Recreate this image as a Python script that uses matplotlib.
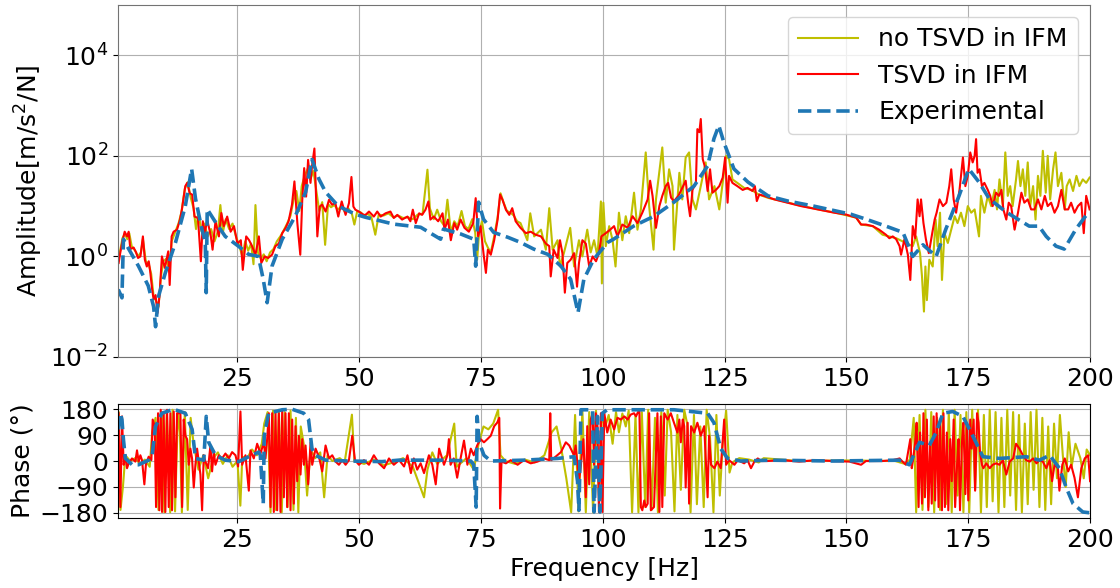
import numpy as np
import matplotlib
matplotlib.use('Agg')
import matplotlib.pyplot as plt
from matplotlib.ticker import NullLocator

plt.rcParams['font.size'] = 18

# amplitude, experimental (f [Hz], |H|)
exp_amp = [(0.55, 0.22), (1.3, 0.15), (1.6, 2.2), (2.7, 1.4), (4.7, 0.64), (6.7, 0.26), (7.8, 0.10),
           (8.2, 0.04), (8.8, 0.16), (10.2, 0.47), (12.3, 1.9), (14.3, 10), (15.6, 55), (16.4, 14),
           (17.7, 3.5), (18.4, 1.9), (18.6, 0.19), (18.8, 8.7), (20.5, 4.8), (22.5, 2.5), (25.2, 1.6),
           (27.3, 1.1), (29.3, 1.0), (30.3, 0.35), (31.1, 0.12), (32.1, 0.64), (34.2, 2.2), (36.9, 6.4),
           (39.0, 19), (40.3, 85), (41.7, 35), (43.1, 19), (45.7, 10), (49.2, 6.9), (51.3, 6.0),
           (52.9, 5.5), (57.0, 4.4), (62.6, 3.8), (66.7, 2.2), (67.3, 3.5), (70.8, 2.8), (73.5, 2.2),
           (73.9, 0.64), (74.5, 12), (75.5, 5.5), (77.6, 3.0), (80.5, 2.4), (83.1, 1.9), (85.8, 1.4),
           (88.7, 1.1), (91.4, 0.64), (93.4, 0.35), (94.9, 0.076), (96.1, 0.35), (98.1, 0.87),
           (101.0, 1.9), (102.2, 2.2), (106.3, 4.0), (110.5, 6.3), (114.6, 12), (118.7, 25), (121.5, 63),
           (122.8, 220), (123.8, 400), (124.8, 190), (126.9, 55), (129.8, 30), (133.9, 16), (138.0, 12.6),
           (143.3, 10), (150.9, 6.9), (154.0, 5.5), (158.1, 4.0), (161.6, 3.0), (163.6, 1.0), (165.7, 1.7),
           (168.4, 1.0), (170.4, 3.5), (173.1, 16), (175.1, 55), (177.2, 30), (179.3, 14), (182.8, 7.6),
           (187.5, 4.0), (189.5, 4.0), (191.0, 2.5), (193.0, 1.6), (194.7, 1.4), (197.1, 3.5), (199.8, 7.9)]

# amplitude, TSVD in IFM
tsvd_amp = [(0.62, 0.74), (0.97, 1.2), (1.44, 2.1), (1.86, 3.1), (2.34, 2.5), (2.68, 3.1), (3.02, 1.4),
            (3.7, 1.5), (4.2, 1.2), (4.6, 0.93), (5.1, 1.0), (5.6, 2.5), (6.0, 0.86), (6.4, 0.63),
            (6.8, 0.80), (7.1, 0.50), (7.5, 0.22), (7.8, 0.14), (8.2, 0.17), (8.6, 0.075), (9.0, 0.16),
            (9.5, 1.0), (10.1, 0.59), (10.8, 1.26), (11.1, 0.27), (11.5, 2.5), (11.9, 3.1), (12.6, 3.4),
            (13.2, 5.3), (13.6, 8.5), (14.3, 25), (14.7, 29), (15.2, 18), (15.7, 17), (16.2, 6.2),
            (16.9, 5.8), (17.5, 0.80), (17.9, 5.0), (18.3, 2.9), (18.8, 5.3), (19.5, 2.7), (19.9, 1.36),
            (20.5, 5.0), (21.2, 2.5), (21.7, 7.3), (22.2, 4.0), (22.9, 6.2), (23.6, 3.1), (24.3, 4.0),
            (25.0, 1.8), (25.7, 2.1), (26.1, 0.54), (26.8, 2.5), (27.4, 2.1), (28.0, 1.6), (28.7, 1.08),
            (29.4, 2.5), (29.9, 0.74), (30.6, 1.0), (31.3, 0.93), (32.1, 1.08), (32.8, 1.6), (33.5, 1.8),
            (34.2, 2.9), (34.9, 3.7), (35.5, 5.0), (36.2, 10.7), (36.7, 31), (37.3, 4.6), (37.9, 1.08),
            (38.3, 13), (38.7, 57), (39.1, 15.5), (39.5, 83), (40.0, 29), (40.3, 61), (40.8, 140),
            (41.0, 39), (41.4, 2.5), (41.9, 9.8), (42.4, 10.7), (43.1, 7.8), (43.8, 13.4), (44.4, 10.7),
            (45.1, 11.5), (45.7, 6.2), (46.4, 12.4), (47.2, 6.7), (47.9, 11.5), (48.4, 38), (48.8, 9.8),
            (49.2, 8.5), (49.9, 7.8), (50.9, 6.7), (51.3, 6.7), (52.0, 7.8), (53.0, 6.2), (53.7, 7.8),
            (54.4, 6.2), (55.4, 7.2), (56.4, 7.8), (57.1, 5.8), (57.8, 6.7), (58.8, 5.4), (59.9, 6.2),
            (60.5, 5.0), (61.0, 8.5), (61.6, 4.6), (62.3, 7.2), (62.9, 6.7), (63.6, 8.5), (64.2, 12.4),
            (64.6, 5.4), (65.3, 6.2), (66.2, 5.0), (67.1, 7.2), (67.5, 3.4), (68.2, 5.4), (68.8, 2.1),
            (69.5, 4.6), (70.1, 3.4), (70.8, 5.4), (71.6, 3.7), (72.5, 3.1), (73.4, 4.6), (73.9, 14.4),
            (74.4, 2.5), (74.9, 4.0), (75.5, 1.16), (76.0, 0.47), (76.4, 1.36), (77.0, 1.08), (77.7, 2.1),
            (78.4, 5.4), (78.9, 17), (79.4, 13.4), (80.1, 8.5), (80.8, 6.7), (81.4, 9.1), (82.1, 5.0),
            (83.1, 3.7), (84.2, 2.9), (85.2, 3.1), (86.2, 2.7), (87.3, 2.5), (88.3, 1.8), (89.0, 1.6),
            (89.3, 0.40), (89.9, 1.36), (90.7, 0.93), (91.2, 2.1), (91.7, 1.16), (92.2, 0.19), (92.7, 0.74),
            (93.4, 0.86), (94.1, 1.16), (94.7, 0.25), (95.1, 0.74), (95.8, 2.1), (96.5, 1.8), (97.2, 0.63),
            (97.9, 1.0), (98.6, 0.80), (99.2, 1.16), (99.7, 2.5), (100.6, 2.9), (101.5, 3.4), (102.3, 4.0),
            (103.0, 2.5), (104.0, 4.3), (105.1, 3.7), (106.1, 6.3), (107.1, 4.6), (108.1, 7.4), (109.2, 13.6),
            (109.7, 32), (110.2, 16), (110.9, 3.7), (111.6, 10), (112.2, 16), (112.9, 25), (113.4, 29),
            (114.0, 14.7), (114.6, 12.6), (115.5, 16), (116.3, 23), (117.0, 32), (117.5, 11.7), (117.9, 6.3),
            (118.4, 21), (119.1, 29), (119.4, 340), (119.8, 295), (120.1, 540), (120.5, 86), (120.9, 63),
            (121.5, 20), (122.0, 54), (122.5, 18.5), (123.2, 21), (123.9, 25), (124.6, 37), (125.1, 93),
            (125.6, 11.7), (125.9, 40), (126.6, 29), (127.6, 25), (128.7, 21), (129.7, 23), (130.7, 20),
            (131.2, 25), (131.6, 12.6), (132.1, 17), (133.1, 16), (135.2, 13.6), (137.9, 11.7), (140.7, 10),
            (144.1, 8.6), (147.5, 7.4), (149.9, 6.8), (152.0, 5.9), (153.0, 4.3), (154.0, 4.3), (155.4, 4.0),
            (156.7, 3.4), (158.1, 2.7), (158.8, 2.3), (159.5, 2.5), (160.2, 2.2), (160.9, 1.6), (161.2, 1.08),
            (161.9, 2.2), (162.6, 1.08), (163.1, 0.34), (163.6, 4.0), (164.1, 2.3), (164.6, 13.6), (165.0, 6.3),
            (165.3, 13.6), (165.8, 4.6), (166.3, 2.2), (166.9, 1.16), (167.6, 2.9), (168.1, 5.4), (168.5, 7.4),
            (169.1, 13.6), (169.8, 10), (170.5, 11.7), (171.1, 25), (171.5, 54), (172.0, 13.6), (172.5, 7.4),
            (173.2, 21), (173.9, 93), (174.4, 25), (174.9, 40), (175.4, 117), (175.9, 74), (176.3, 100),
            (176.6, 215), (176.9, 46), (177.3, 54), (177.8, 25), (178.3, 29), (179.0, 21), (179.5, 16),
            (180.0, 10), (180.7, 18.5), (181.3, 16), (181.8, 21), (182.2, 8.6), (182.8, 5.4), (183.3, 11.7),
            (183.8, 10), (184.5, 3.4), (185.2, 7.4), (185.9, 18.5), (186.5, 11.7), (187.2, 13.6), (187.9, 8.6),
            (188.6, 8.6), (189.3, 13.6), (190.0, 8.6), (190.7, 16), (191.3, 10), (192.0, 11.7), (192.7, 7.4),
            (193.4, 10), (194.1, 21), (194.8, 8.6), (195.5, 8.6), (196.1, 11.7), (196.8, 7.4), (197.5, 10),
            (198.2, 11.7), (198.7, 2.9), (199.2, 16), (199.9, 8.6)]

# amplitude, no TSVD in IFM
notsvd_amp = [(0.6, 0.9), (1.0, 1.4), (1.4, 2.3), (1.9, 2.8), (2.4, 2.2), (2.8, 2.9), (3.3, 1.6), (4.0, 1.3),
              (4.6, 1.0), (5.2, 1.2), (5.6, 2.2), (6.2, 0.8), (6.8, 0.7), (7.3, 0.45), (7.8, 0.16), (8.3, 0.13),
              (8.8, 0.1), (9.3, 0.4), (9.8, 0.8), (10.4, 0.9), (11.0, 0.5), (11.5, 2.0), (12.2, 3.0), (12.9, 4.5),
              (13.5, 7.5), (14.2, 22), (14.8, 30), (15.4, 15), (16.0, 9), (16.5, 3.5), (17.0, 7.5), (17.6, 3.2),
              (18.2, 4.5), (18.9, 2.5), (19.6, 3.5), (20.3, 2.0), (21.0, 3.2), (21.5, 10.5), (22.0, 3.0),
              (22.6, 5.5), (23.3, 3.5), (24.0, 4.5), (24.7, 2.5), (25.4, 1.6), (26.0, 1.0), (26.6, 2.0),
              (27.2, 1.3), (27.8, 1.8), (28.3, 0.7), (28.7, 10.5), (29.2, 1.2), (29.8, 0.9), (30.4, 1.1),
              (31.0, 0.8), (31.7, 1.2), (32.4, 1.4), (33.1, 2.0), (33.8, 2.5), (34.5, 3.3), (35.2, 4.5),
              (35.9, 6.5), (36.5, 13), (37.1, 20), (37.7, 8), (38.2, 25), (38.8, 40), (39.4, 55), (40.0, 35),
              (40.6, 50), (41.2, 20), (41.8, 8), (42.4, 12), (43.0, 1.7), (43.6, 11), (44.2, 9.5), (44.9, 10.5),
              (45.6, 8.5), (46.4, 10), (47.1, 7.5), (47.8, 9), (48.5, 7), (49.0, 4.3), (49.6, 8), (50.3, 7.5),
              (51.0, 6.5), (51.8, 7.0), (52.5, 6.0), (53.3, 2.7), (54.0, 6.8), (55.0, 6.5), (56.0, 7.2),
              (57.0, 6.0), (58.0, 6.5), (59.0, 5.8), (60.0, 6.0), (61.0, 5.5), (62.0, 6.8), (63.0, 7.0),
              (64.0, 53), (64.5, 9), (65.3, 5.5), (66.0, 8.5), (66.8, 5.0), (67.5, 4.0), (68.1, 13.4),
              (68.8, 3.0), (69.5, 5.0), (70.2, 4.0), (71.0, 8.0), (71.7, 4.0), (72.4, 3.5), (73.2, 5.5),
              (73.8, 3.0), (74.2, 0.86), (74.6, 3.0), (75.2, 5.0), (75.8, 2.0), (76.4, 1.5), (77.0, 1.2),
              (77.7, 2.5), (78.4, 6), (79.0, 18), (79.6, 12), (80.3, 8), (81.0, 7.5), (81.7, 6.5), (82.4, 5.0),
              (83.1, 4.6), (84.5, 2.1), (85.1, 7.2), (85.9, 2.5), (87.3, 3.4), (88.3, 1.36), (89.0, 9.1),
              (89.7, 1.36), (90.7, 2.1), (91.2, 0.63), (92.0, 1.16), (93.3, 3.7), (94.1, 0.63), (95.1, 2.1),
              (95.8, 1.0), (96.8, 3.4), (97.5, 1.2), (98.2, 2.1), (98.9, 1.0), (99.6, 12.4), (99.8, 0.29),
              (100.1, 11.7), (100.6, 1.6), (101.3, 4.0), (102.0, 2.1), (102.6, 0.63), (103.3, 7.4), (104.0, 2.1),
              (104.7, 6.3), (105.4, 2.9), (106.4, 18.5), (107.1, 3.4), (107.8, 8.6), (108.8, 117), (109.5, 10),
              (110.4, 1.36), (110.9, 13.6), (112.2, 147), (112.9, 11.7), (113.6, 54), (114.3, 25), (114.6, 1.36),
              (115.7, 46), (116.3, 13.6), (117.0, 93), (117.7, 117), (118.4, 13.6), (119.1, 8.6), (120.1, 25),
              (121.1, 74), (121.8, 13.6), (122.9, 25), (123.9, 8.6), (124.6, 29), (125.3, 100), (125.9, 86),
              (126.6, 34), (127.6, 29), (129.0, 23), (130.5, 21), (132.0, 17), (134.0, 14.5), (137.0, 12.5),
              (140.0, 10.5), (144.0, 8.7), (148.0, 7.3), (152.0, 5.9), (153.0, 4.3), (155.4, 4.0), (157.4, 2.7),
              (160.2, 2.3), (162.2, 1.85), (163.6, 1.6), (164.3, 2.5), (165.1, 1.16), (165.5, 0.40), (165.9, 0.08),
              (166.2, 0.63), (166.5, 0.135), (167.0, 0.86), (167.7, 0.63), (168.3, 5.4), (168.7, 1.6), (169.2, 7.4),
              (169.6, 0.34), (170.1, 2.9), (170.8, 1.85), (171.5, 3.4), (172.2, 6.3), (172.8, 4.6), (173.5, 7.4),
              (174.2, 4.0), (174.9, 10), (175.6, 7.4), (176.3, 8.6), (177.2, 2.5), (177.6, 16), (178.3, 7.4),
              (179.0, 16), (179.7, 10), (180.4, 21), (180.9, 8.6), (181.4, 34), (182.1, 10), (182.6, 117),
              (183.1, 16), (183.6, 25), (184.1, 10), (184.8, 34), (185.2, 79), (185.7, 25), (186.2, 54),
              (186.7, 16), (187.2, 74), (187.7, 10), (188.3, 25), (188.8, 5.4), (189.3, 40), (189.8, 16),
              (190.3, 126), (190.9, 18.5), (191.3, 100), (191.8, 13.6), (192.4, 54), (192.9, 117), (193.4, 25),
              (194.1, 46), (194.8, 8.6), (195.2, 25), (195.8, 34), (196.5, 20), (197.2, 40), (197.8, 25),
              (198.5, 34), (199.2, 29), (199.9, 37)]

# phase [deg], experimental
exp_ph = [(0.55, 110), (0.97, 166), (1.3, 144), (1.6, 76), (2.0, 9), (3.4, -13), (4.7, -13), (6.8, 3),
          (7.5, 20), (8.2, 121), (9.5, 166), (11.9, 180), (14.3, 166), (15.7, 110), (16.4, 9), (18.1, 3),
          (18.6, 155), (19.1, 65), (20.5, 20), (22.5, 3), (25.3, -2), (27.3, 15), (29.4, 31), (29.7, 20),
          (30.3, -148), (30.5, 88), (31.4, 166), (34.2, 178), (36.2, 180), (38.6, 166), (39.6, 144),
          (40.3, 43), (41.0, 20), (43.1, 3), (47.8, 0), (54.7, -2), (58.1, 3), (67.7, 3), (72.9, 0),
          (73.5, -13), (74.0, -160), (74.2, 155), (74.6, 65), (75.6, 20), (77.0, 0), (83.8, 3), (90.7, 9),
          (94.1, 15), (94.8, -70), (95.1, -171), (95.5, 178), (97.9, 178), (98.2, -177), (98.9, 155),
          (99.4, -177), (99.9, 166), (100.9, 178), (107.8, 178), (114.6, 178), (121.5, 166), (122.8, 133),
          (124.2, 43), (125.6, 9), (128.3, 0), (134.5, 3), (147.2, 0), (160.8, 3), (162.9, -13), (165.0, 65),
          (167.0, 54), (168.4, 99), (169.8, 166), (171.8, 172), (173.9, 155), (175.9, 88), (178.0, 15),
          (181.4, 9), (186.9, 15), (189.6, 3), (191.7, 20), (193.7, -25), (195.1, -92), (196.5, -148),
          (198.5, -177), (200.0, -180)]

# phase [deg], TSVD in IFM
tsvd_ph = [(0.62, 166), (0.97, -160), (1.31, 155), (1.65, -13), (2.0, 20), (2.34, -25), (2.68, -8), (3.36, 9),
           (4.05, -2), (4.39, 37), (4.73, -2), (5.08, 20), (5.42, 3), (5.9, -81), (6.24, -8), (6.79, 15),
           (7.34, 3), (7.61, 144), (8.02, 121), (8.30, -160), (8.71, 166), (8.98, -171), (9.26, 178),
           (9.53, -177), (9.87, 166), (10.21, -177), (10.56, 178), (10.90, -160), (11.24, 166), (11.58, -171),
           (11.93, 172), (12.27, -126), (12.61, 166), (13.30, 166), (13.64, -160), (13.98, 144), (14.32, 88),
           (14.67, 76), (15.01, -13), (15.35, 43), (15.69, 9), (16.04, -92), (16.38, -13), (16.72, 43),
           (17.06, -2), (17.41, -47), (17.75, -171), (18.09, 20), (18.43, -2), (18.98, -25), (19.46, 54),
           (19.80, -36), (20.15, 31), (20.49, -13), (21.17, 20), (21.86, 9), (22.54, 26), (23.23, 9),
           (23.91, 31), (24.60, 20), (25.14, -19), (25.62, 172), (25.97, -13), (26.65, 20), (27.34, -103),
           (27.68, 37), (28.36, 9), (29.05, 60), (29.73, 26), (30.42, 65), (30.76, 9), (31.10, 76),
           (31.45, 166), (31.79, -160), (32.13, 166), (32.47, -177), (32.82, 172), (33.16, -171), (33.50, 166),
           (33.84, -177), (34.19, 178), (34.53, -126), (34.87, 166), (35.21, -160), (35.56, 166), (35.90, -171),
           (36.24, 144), (36.58, -148), (36.93, 121), (37.27, -70), (37.61, 88), (37.95, -47), (38.30, 76),
           (38.64, -13), (38.98, 54), (39.53, -81), (40.01, 65), (40.35, -13), (41.04, 43), (41.72, 15),
           (42.41, -36), (43.09, 54), (43.78, 9), (44.46, 20), (45.15, -2), (45.83, -13), (46.52, 3),
           (47.20, -13), (47.89, 3), (48.57, 88), (49.12, 3), (49.94, -13), (50.97, 3), (52.0, -13),
           (53.0, 20), (54.05, -8), (55.1, -25), (56.1, 9), (57.1, -13), (58.2, 3), (59.2, -19), (59.9, 20),
           (60.6, -42), (61.2, 9), (61.9, -30), (62.6, -8), (63.3, -42), (64.3, 20), (65.0, -13), (65.7, -81),
           (66.4, 43), (67.4, -13), (68.1, 20), (68.4, 76), (68.75, -13), (69.4, 9), (70.1, -58), (70.8, 9),
           (71.5, 71), (72.2, -13), (72.9, 43), (73.5, 20), (74.2, 54), (74.9, 76), (75.6, 65), (76.3, 76),
           (77.0, 88), (77.7, 121), (78.3, 133), (78.75, 150), (78.9, -165), (79.2, -2), (80.1, -8), (81.1, 3),
           (82.5, -13), (83.8, 3), (85.2, -8), (86.6, -2), (87.9, 9), (89.0, 3), (89.2, 166), (89.4, 3),
           (90.3, 15), (91.4, 31), (92.4, 65), (93.1, 54), (93.75, 31), (94.1, 20), (94.4, 54), (94.8, -13),
           (95.1, -70), (95.5, -13), (96.0, 76), (96.5, -126), (96.8, 121), (97.2, -81), (97.5, 144),
           (97.9, 166), (98.2, -13), (98.55, 166), (98.9, 121), (99.2, -177), (99.6, 166), (99.9, -177),
           (100.3, 166), (100.9, 99), (101.6, 144), (102.3, 110), (103.0, 150), (103.7, 144), (104.4, 155),
           (105.1, 144), (105.7, 161), (106.4, 166), (106.8, 155), (107.1, 166), (107.5, 178), (107.8, -160),
           (108.1, -171), (108.5, -137), (108.8, -160), (109.2, -148), (109.5, 166), (109.85, -171),
           (110.5, -160), (111.2, 166), (111.6, -177), (111.9, 155), (112.2, -160), (112.6, 166), (113.3, 144),
           (113.95, 166), (114.6, 133), (115.3, 99), (115.7, 144), (116.0, 65), (116.4, 144), (116.7, 121),
           (117.0, -92), (117.4, 133), (117.7, -148), (118.1, 121), (118.75, 99), (119.4, 133), (120.1, 88),
           (120.8, 121), (121.5, -126), (121.8, 88), (122.2, -13), (122.9, -25), (123.5, -2), (124.2, -25),
           (124.9, 144), (125.3, -13), (125.9, 3), (127.0, -13), (127.7, 3), (128.3, -2), (129.0, -8),
           (129.7, 3), (130.4, -25), (131.1, -2), (131.8, 9), (132.5, 0), (133.8, 0), (136.9, 3), (140.3, -2),
           (143.7, 3), (147.2, 0), (150.6, -2), (153.0, -13), (154.0, 0), (157.4, 0), (159.5, 3), (160.9, 9),
           (161.5, -2), (162.2, -13), (163.1, 76), (163.4, -25), (163.7, 9), (164.1, 65), (164.4, 133),
           (164.8, -160), (165.1, 99), (165.5, -148), (165.8, 166), (166.1, -126), (166.5, 144), (166.8, -171),
           (167.2, 65), (167.5, -148), (167.9, 155), (168.2, -137), (168.5, 166), (168.9, -160), (169.2, 144),
           (169.6, -171), (169.9, 166), (170.2, -160), (170.6, 99), (170.9, -171), (171.3, 76), (171.6, -70),
           (172.0, 144), (172.3, -160), (172.7, -13), (173.0, 76), (173.3, -171), (173.7, 65), (174.0, 133),
           (174.4, -115), (174.7, 121), (175.0, -137), (175.4, 144), (175.7, 43), (176.1, 144), (176.4, -103),
           (176.8, 166), (177.1, 133), (177.4, 31), (177.8, -13), (178.1, -25), (178.7, -8), (179.4, -25),
           (180.0, -13), (180.7, -8), (181.4, -13), (182.1, 3), (182.8, -47), (183.5, -2), (184.2, 9),
           (184.8, 60), (185.5, 43), (186.2, 20), (186.9, 3), (187.6, -2), (188.3, 9), (189.0, -8), (189.6, 3),
           (190.3, -2), (191.0, -25), (191.7, 3), (192.2, -70), (192.7, -13), (193.4, -25), (193.7, -103),
           (194.3, -13), (194.8, 9), (195.5, -36), (196.1, -13), (196.8, -58), (197.5, -126), (198.2, -25),
           (198.9, 9), (199.6, 20), (200.0, -70)]

# phase [deg], no TSVD in IFM
notsvd_ph = [(0.6, 170), (1.0, -170), (1.5, -90), (2.0, 20), (3.0, 0), (4.0, 10), (5.0, -10), (6.0, 5),
             (7.0, -20), (7.5, 100), (8.2, 150), (8.8, -170), (9.5, 170), (10.0, -178), (10.5, 175),
             (11.2, -178), (11.7, 178), (12.2, -175), (12.8, 175), (13.2, 100), (13.6, -178), (14.2, 170),
             (14.8, -170), (15.4, 150), (16.0, 60), (17.0, -30), (18.0, 20), (19.0, -60), (20.0, 10),
             (21.0, 30), (22.0, -10), (23.0, 20), (24.0, -20), (25.0, 0), (25.6, -155), (26.0, 15), (27.0, 10),
             (28.0, 40), (29.0, 20), (30.0, 60), (30.5, 130), (31.2, 170), (31.8, -178), (32.3, 175),
             (32.9, -170), (33.5, 178), (34.1, -178), (34.7, 170), (35.3, -160), (35.9, 175), (36.5, -170),
             (37.0, 150), (37.5, -178), (38.0, 120), (38.6, 60), (39.3, -120), (40.0, 40), (41.0, 10), (42.0, 30),
             (42.8, -126), (43.5, 20), (44.5, 0), (46.0, 10), (47.0, -5), (48.5, 161), (49.0, 0), (51.0, -10),
             (53.0, 5), (55.0, -15), (57.0, -5), (59.0, 10), (61.0, -20), (63.3, -126), (64.0, -30), (65.0, 30),
             (66.0, -10), (68.0, 20), (69.5, 130), (70.0, -20), (72.0, 10), (73.5, -30), (74.5, 60),
             (75.5, 120), (76.5, 110), (77.5, 130), (78.5, 178), (79.0, 20), (80.0, 0), (82.0, -10), (84.0, 5),
             (86.0, -5), (88.0, 20), (89.5, 100), (90.5, 120), (91.5, 40), (92.5, -60), (93.5, -178),
             (94.3, 160), (95.0, -175), (95.8, 178), (96.5, -178), (97.2, 170), (98.0, -178), (98.6, 175),
             (99.2, -120), (99.8, 150), (100.5, 120), (101.2, 160), (102.0, 60), (102.7, 170), (103.3, 100),
             (104.0, 165), (104.7, 120), (105.3, 175), (106.0, -178), (106.7, 160), (107.3, -178), (108.0, 170),
             (108.7, -160), (109.3, 178), (110.0, -170), (110.7, 150), (111.3, -178), (112.0, 170),
             (112.7, -120), (113.3, 178), (114.0, 100), (114.7, -175), (115.3, 160), (116.0, -100), (116.7, 178),
             (117.3, 130), (118.0, -178), (118.7, 160), (119.3, -150), (120.0, 120), (120.7, -160), (121.3, 178),
             (122.0, 80), (122.7, -178), (123.3, 160), (124.0, -120), (124.6, 60), (125.3, 175), (126.0, -40),
             (126.5, -10), (127.0, 0), (128.0, 10), (130.0, 5), (132.0, -5), (133.0, 10), (140.0, 0),
             (150.0, 2), (160.0, 0), (162.0, -10), (163.0, 5), (163.8, 150), (164.3, -178), (165.0, 160),
             (165.6, -170), (166.2, 178), (166.8, -160), (167.4, 170), (168.0, -178), (168.6, 150), (169.2, -170),
             (169.8, 178), (170.4, -150), (171.0, 170), (171.6, -178), (172.2, 178), (172.8, -120), (173.4, 160),
             (174.0, -178), (174.6, 170), (175.2, -178), (175.8, 178), (176.4, -100), (177.0, 178), (177.6, -178),
             (178.2, 160), (178.8, -160), (179.4, 178), (180.0, -140), (180.6, 170), (181.2, -178), (181.8, 150),
             (182.4, -160), (183.0, 178), (183.6, -120), (184.2, 170), (184.8, -170), (185.4, 160), (186.0, -178),
             (186.6, 130), (187.2, -150), (187.8, 170), (188.4, -100), (189.0, 178), (189.6, -160), (190.2, 150),
             (190.8, -170), (191.4, 120), (192.0, -150), (192.6, 130), (193.2, -60), (193.8, 160), (194.4, 20),
             (195.0, -90), (195.6, 100), (196.2, -20), (197.0, 60), (198.0, 10), (198.7, -60), (199.3, 40),
             (200.0, 20)]

labels = ['no TSVD in IFM', 'TSVD in IFM', 'Experimental']
xticks = [25, 50, 75, 100, 125, 150, 175, 200]


def xy(pairs):
    a = np.array(pairs, dtype=float)
    return a[:, 0], a[:, 1]


fig = plt.figure(figsize=(11.2, 5.88), dpi=100)
ax1 = fig.add_axes([0.1054, 0.3929, 0.8679, 0.5986])
ax2 = fig.add_axes([0.1054, 0.119, 0.8679, 0.1939])

f, v = xy(notsvd_amp)
ax1.plot(f, v, color='y', lw=1.5, label=labels[0])
f, v = xy(tsvd_amp)
ax1.plot(f, v, color='r', lw=1.5, label=labels[1])
f, v = xy(exp_amp)
ax1.plot(f, v, '--', color='tab:blue', lw=2.6, label=labels[2])
ax1.set_yscale('log')
ax1.set_ylim(1e-2, 1e5)
ax1.set_yticks([1e-2, 1e0, 1e2, 1e4])
ax1.yaxis.set_minor_locator(NullLocator())
ax1.set_xlim(0.5, 200)
ax1.set_xticks(xticks)
ax1.set_ylabel('Amplitude[m/s$^2$/N]')
ax1.grid(True)
for s in ax1.spines.values():
    s.set_color('0.45')
ax1.legend(loc='upper right', handlelength=2.4)

f, v = xy(notsvd_ph)
ax2.plot(f, v, color='y', lw=1.5)
f, v = xy(tsvd_ph)
ax2.plot(f, v, color='r', lw=1.5)
f, v = xy(exp_ph)
ax2.plot(f, v, '--', color='tab:blue', lw=2.6)
ax2.set_ylim(-198, 198)
ax2.set_yticks([-180, -90, 0, 90, 180])
ax2.set_xlim(0.5, 200)
ax2.set_xticks(xticks)
ax2.set_ylabel('Phase (°)')
ax2.set_xlabel('Frequency [Hz]', labelpad=4)
ax2.grid(True)

fig.savefig('out.png', dpi=100)
